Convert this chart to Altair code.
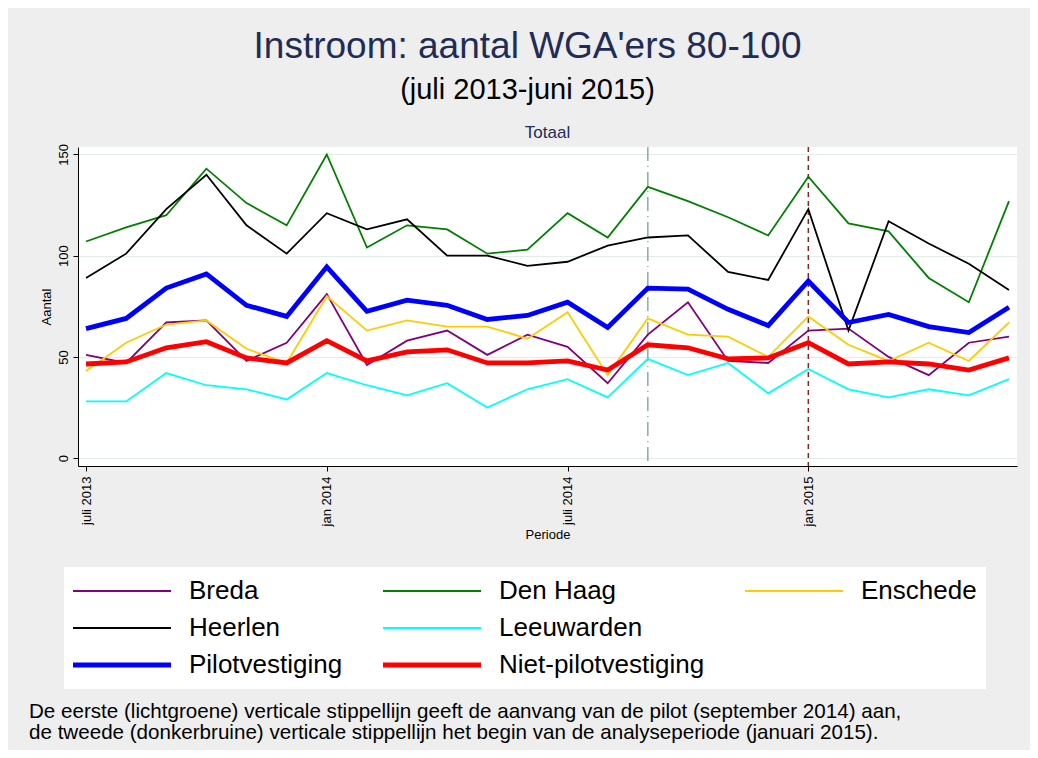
import altair as alt
import pandas as pd

# ---------------- data ----------------
title_text = "Instroom: aantal WGA'ers 80-100"
subtitle_text = "(juli 2013-juni 2015)"
panel_title = "Totaal"
footnote = [
    "De eerste (lichtgroene) verticale stippellijn geeft de aanvang van de pilot (september 2014) aan,",
    "de tweede (donkerbruine) verticale stippellijn het begin van de analyseperiode (januari 2015).",
]

months = ["2013-07", "2013-08", "2013-09", "2013-10", "2013-11", "2013-12",
          "2014-01", "2014-02", "2014-03", "2014-04", "2014-05", "2014-06",
          "2014-07", "2014-08", "2014-09", "2014-10", "2014-11", "2014-12",
          "2015-01", "2015-02", "2015-03", "2015-04", "2015-05", "2015-06"]
tick_months = ["2013-07", "2014-01", "2014-07", "2015-01"]
tick_labels = ["juli 2013", "jan 2014", "juli 2014", "jan 2015"]
y_ticks = [0, 50, 100, 150]

series = ["Breda", "Den Haag", "Enschede", "Heerlen", "Leeuwarden",
          "Pilotvestiging", "Niet-pilotvestiging"]
thick_series = ["Pilotvestiging", "Niet-pilotvestiging"]

breda = [51, 47, 67, 68, 48, 57, 81, 46, 58, 63, 51, 61,
         55, 37, 61, 77, 48, 47, 63, 64, 50, 41, 57, 60]
den_haag = [107, 114, 120, 143, 126, 115, 150, 104, 115, 113, 101, 103,
            121, 109, 134, 127, 119, 110, 139, 116, 112, 89, 77, 127]
enschede = [43, 57, 66, 68, 54, 47, 80, 63, 68, 65, 65, 59,
            72, 41, 69, 61, 60, 50, 70, 56, 48, 57, 48, 67]
heerlen = [89, 101, 123, 140, 115, 101, 121, 113, 118, 100, 100, 95,
           97, 105, 109, 110, 92, 88, 123, 63, 117, 106, 96, 83]
leeuwarden = [28, 28, 42, 36, 34, 29, 42, 36, 31, 37, 25, 34,
              39, 30, 49, 41, 47, 32, 44, 34, 30, 34, 31, 39]
pilot = [64, 69, 84, 91, 75.5, 70, 94.5, 72.5, 78, 75.5, 68.5, 70.5,
         77, 64.5, 84, 83.5, 73.5, 65.5, 87.5, 67, 71, 65, 62, 74.5]
niet_pilot = [46.5, 47.5, 54.5, 57.5, 49.5, 47, 58, 48, 52.5, 53.5, 47, 47,
              48, 43.5, 56, 54.5, 49, 49.5, 57, 46.5, 47.5, 46.5, 43.5, 49.5]

pilot_start = ["2014-09"]      # start pilot
analyse_start = ["2015-01"]    # start analyseperiode

# legend layout: 3 columns, with an empty slot after Leeuwarden
legend_gap = " "
legend_order = series[:5] + [legend_gap] + series[5:]

# ---------------- styles ----------------
series_colors = {"Breda": "#800080", "Den Haag": "#008000", "Enschede": "#ffcc00",
                 "Heerlen": "#000000", "Leeuwarden": "#00ffff",
                 "Pilotvestiging": "#0000ff", "Niet-pilotvestiging": "#ff0000",
                 legend_gap: "transparent"}
THIN, THICK = 1.8, 4.8
FONT = "Liberation Sans"
NAVY = "#1e2d55"

all_values = [breda, den_haag, enschede, heerlen, leeuwarden, pilot, niet_pilot]
rows = []
for name, vals in zip(series, all_values):
    for i, v in enumerate(vals):
        rows.append({"series": name, "m": i, "maand": months[i], "aantal": v})
df = pd.DataFrame(rows)

tick_idx = [months.index(t) for t in tick_months]
label_expr = " : ".join(
    f"datum.value == {i} ? '{lab}'" for i, lab in zip(tick_idx, tick_labels)
) + " : ''"

x_scale = alt.Scale(domain=[-0.2, 23.2], nice=False, zero=False)
y_scale = alt.Scale(domain=[-3.9, 153.7], nice=False, zero=False)

x_axis = alt.Axis(values=tick_idx, labelExpr=label_expr, title="Periode",
                  labelAngle=270, grid=False, labelPadding=5, titlePadding=3)
y_axis = alt.Axis(values=y_ticks, title="Aantal", labelAngle=270, grid=True,
                  labelPadding=3, titlePadding=4)

thick_js = "[" + ",".join(f"'{s}'" for s in thick_series) + "]"
legend = alt.Legend(
    title=None, orient="none", legendX=-14, legendY=420,
    direction="horizontal", columns=3, fillColor="white",
    padding=9, labelFontSize=26, labelFont=FONT, labelColor="black",
    labelLimit=600, symbolSize=9604, clipHeight=30, rowPadding=7,
    columnPadding=40, labelOffset=54, symbolOffset=36, symbolType="stroke",
    symbolStrokeWidth=alt.ExprRef(
        expr=f"indexof({thick_js}, datum.value) >= 0 ? {THICK} : {THIN}"),
)

lines = alt.Chart(df).mark_line().encode(
    x=alt.X("m:Q", scale=x_scale, axis=x_axis),
    y=alt.Y("aantal:Q", scale=y_scale, axis=y_axis),
    color=alt.Color("series:N",
                    scale=alt.Scale(domain=legend_order,
                                    range=[series_colors[s] for s in legend_order]),
                    legend=legend, sort=legend_order),
    strokeWidth=alt.condition(
        alt.FieldOneOfPredicate(field="series", oneOf=thick_series),
        alt.value(THICK), alt.value(THIN)),
)

rule_pilot = alt.Chart(pd.DataFrame({"maand": pilot_start})).transform_calculate(
    m=f"indexof({months}, datum.maand)"
).mark_rule(color="#8aaca2", strokeWidth=1.5, strokeDash=[14, 5, 1, 5]).encode(
    x=alt.X("m:Q", scale=x_scale, axis=x_axis)
)
rule_analyse = alt.Chart(pd.DataFrame({"maand": analyse_start})).transform_calculate(
    m=f"indexof({months}, datum.maand)"
).mark_rule(color="#8b2525", strokeWidth=1.5, strokeDash=[5, 4]).encode(
    x=alt.X("m:Q", scale=x_scale, axis=x_axis)
)

panel = alt.Chart(alt.Data(values=[{"t": panel_title}])).mark_text(
    font=FONT, fontSize=17, color=NAVY, align="center", baseline="middle"
).encode(text="t:N", x=alt.value(469.5), y=alt.value(-14))

note = alt.Chart(alt.Data(values=[{"t": "\n".join(footnote)}])).mark_text(
    font=FONT, fontSize=20.6, color="black", align="left", baseline="alphabetic",
    lineBreak="\n", lineHeight=21
).encode(text="t:N", x=alt.value(-49), y=alt.value(571))

chart = alt.layer(rule_pilot, rule_analyse, lines, panel, note).properties(
    width=939,
    height=319,
    background="#eeeeee",
    padding={"left": 70, "top": 139, "right": 13, "bottom": 284},
    autosize=alt.AutoSizeParams(type="none"),
    title=alt.Title(text=title_text, subtitle=subtitle_text, font=FONT,
                    fontSize=37, fontWeight="normal", color=NAVY,
                    subtitleFont=FONT, subtitleFontSize=29, subtitleColor="black",
                    subtitlePadding=10, anchor="middle", frame="group",
                    dx=-20, offset=18),
).configure_view(stroke=None, fill="white").configure_axis(
    labelFont=FONT, labelFontSize=13, labelColor="black",
    titleFont=FONT, titleFontSize=13, titleFontWeight="normal", titleColor="black",
    domainColor="black", domainWidth=1, tickColor="black", tickSize=5, tickWidth=1,
    gridColor="#e2ecec", gridWidth=1,
)

chart.save("out.html", embed_options={"renderer": "svg", "actions": False})
